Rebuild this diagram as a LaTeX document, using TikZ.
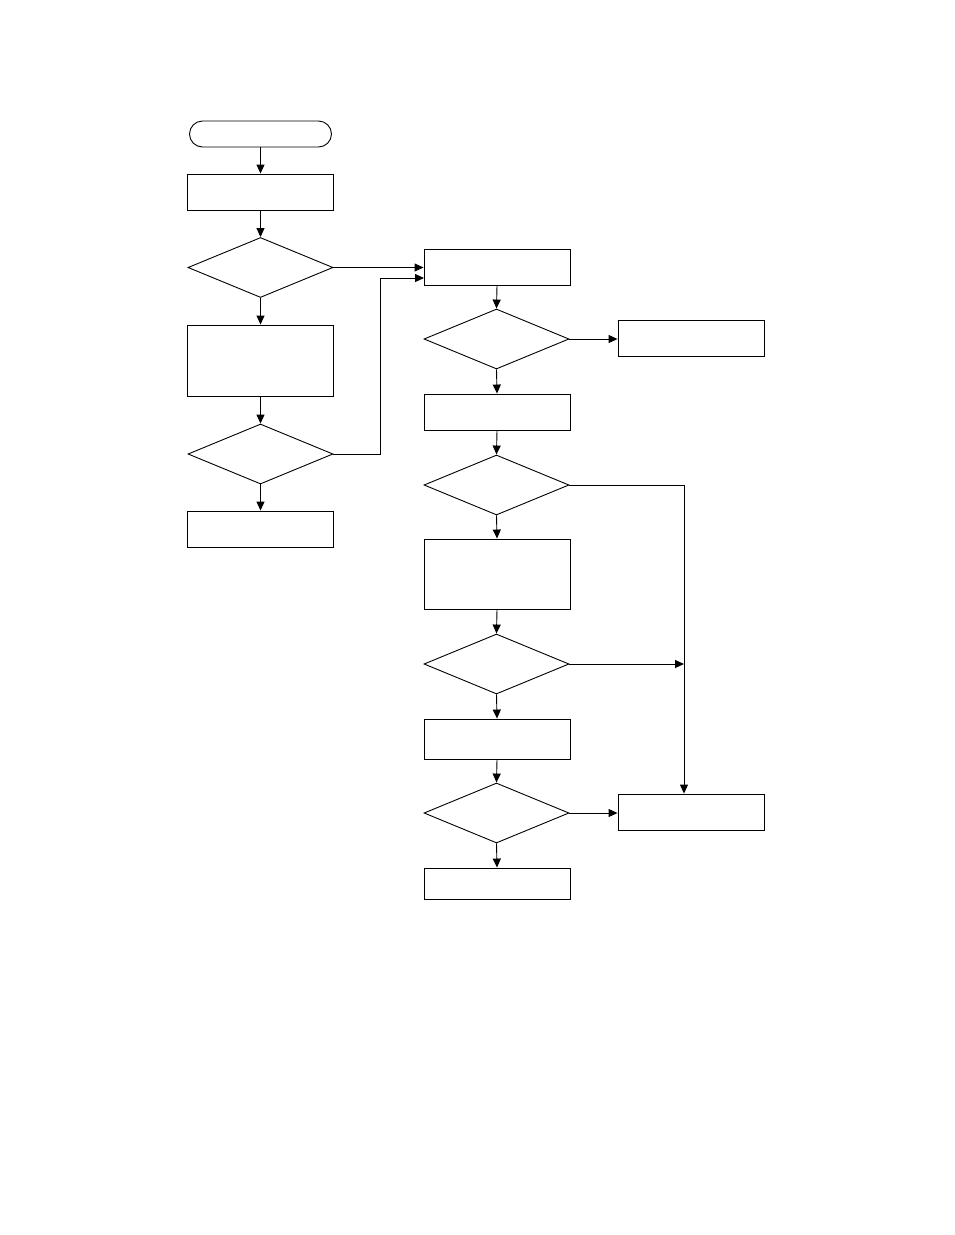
\documentclass[tikz,border=0pt]{standalone}
\usetikzlibrary{arrows.meta,shapes.geometric}
\begin{document}
\begin{tikzpicture}[x=1pt,y=-1pt,
  line width=0.9pt,
  box/.style={draw,rectangle,minimum width=146pt,inner sep=0pt},
  term/.style={draw,rectangle,rounded corners=13pt,minimum width=142pt,minimum height=26pt,inner sep=0pt},
  dec/.style={draw,diamond,minimum width=145pt,minimum height=60pt,inner sep=0pt,aspect=2.4},
  arr/.style={-{Triangle[length=9pt,width=8pt]}}]
\useasboundingbox (0,0) rectangle (954,1235);
% left column
\node[term] (s) at (260.5,134) {};
\node[box,minimum height=36pt] (b1) at (260.5,192) {};
\node[dec] (d1) at (260.5,267.5) {};
\node[box,minimum height=71pt] (b2) at (260.5,360.5) {};
\node[dec] (d2) at (260.5,454) {};
\node[box,minimum height=36pt] (b3) at (260.5,529) {};
% right column
\node[box,minimum height=36pt] (r1) at (497,267) {};
\node[dec] (d3) at (496.5,339) {};
\node[box,minimum height=36pt] (f1) at (691,338) {};
\node[box,minimum height=36pt] (r2) at (497,412) {};
\node[dec] (d4) at (496.5,485) {};
\node[box,minimum height=70pt] (r3) at (497,574) {};
\node[dec] (d5) at (496.5,664) {};
\node[box,minimum height=40pt] (r4) at (497,739) {};
\node[dec] (d6) at (496.5,813) {};
\node[box,minimum height=36pt] (f2) at (691,812) {};
\node[box,minimum height=31pt] (r5) at (497,883.5) {};
\coordinate (j) at (684,664);
% connectors
\draw[arr] (s.south) -- (b1.north);
\draw[arr] (b1.south) -- (d1.north);
\draw[arr] (d1.south) -- (b2.north);
\draw[arr] (b2.south) -- (d2.north);
\draw[arr] (d2.south) -- (b3.north);
\draw[arr] (d1.east) -- (r1.west |- d1.east);
\draw[arr] (d2.east) -- (380,454) -- (380,278) -- (424,278);
\draw[arr] (r1.south) -- (d3.north);
\draw[arr] (d3.east) -- (f1.west |- d3.east);
\draw[arr] (d3.south) -- (r2.north);
\draw[arr] (r2.south) -- (d4.north);
\draw[arr] (d4.south) -- (r3.north);
\draw[arr] (r3.south) -- (d5.north);
\draw[arr] (d5.south) -- (r4.north);
\draw[arr] (r4.south) -- (d6.north);
\draw[arr] (d6.south) -- (r5.north);
\draw[arr] (d6.east) -- (f2.west |- d6.east);
\draw[arr] (d4.east) -- (d4.east -| j) -- (j |- f2.north);
\draw[arr] (d5.east) -- (j);
\end{tikzpicture}
\end{document}
